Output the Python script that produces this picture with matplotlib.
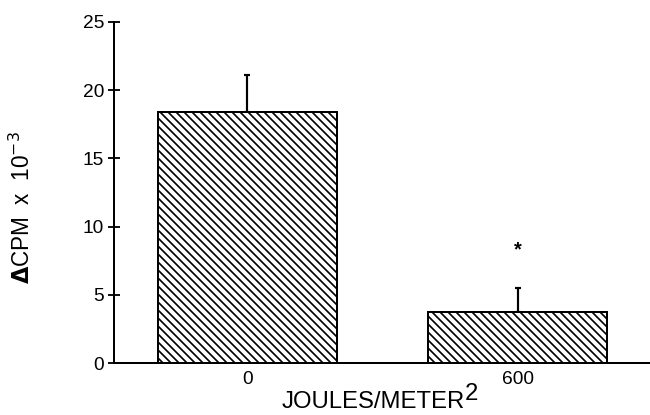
import numpy as np
import matplotlib.pyplot as plt

plt.rcParams['font.family'] = ['Liberation Sans', 'DejaVu Sans']
plt.rcParams['hatch.linewidth'] = 1.0

doses = ['0', '600']
means = [18.4, 3.75]
errors = [2.7, 1.75]
star_y = 8.3

DPI = 120
fig = plt.figure(figsize=(650 / DPI, 415 / DPI), dpi=DPI)
ax = fig.add_axes([0.1754, 0.1253, 0.8246, 0.8217])

x = np.arange(len(doses))
ax.bar(x, means, width=0.665, color='white', edgecolor='black', linewidth=1.2,
       hatch='\\' * 5, zorder=2)
ax.errorbar(x, means, yerr=[np.zeros(len(errors)), errors], fmt='none',
            ecolor='black', elinewidth=1.3, capsize=1.9, capthick=1.3, zorder=1)
ax.text(x[1], star_y, '*', ha='center', va='center', fontsize=12,
        fontweight='bold')

ax.set_xlim(-0.494, 1.49)
ax.set_ylim(0, 25)
ax.set_yticks([0, 5, 10, 15, 20, 25])
ax.set_xticks(x)
ax.set_xticklabels(doses)

for s in ['top', 'right']:
    ax.spines[s].set_visible(False)
for s in ['left', 'bottom']:
    ax.spines[s].set_linewidth(1.2)

ax.tick_params(axis='y', direction='inout', length=7, width=1.1,
               labelsize=11.5, pad=2.5)
ax.tick_params(axis='x', length=0, labelsize=11.5, pad=5)

ax.set_ylabel(r'$\mathbf{\Delta}$CPM  x  10$^{-3}$', fontsize=13.5)
ax.yaxis.set_label_coords(-0.148, 0.455)

# x label with a full-size raised "2"
fig.text(282 / 650, 1 - 402 / 415, 'JOULES/METER', fontsize=14.3,
         ha='left', va='center')
fig.text(465 / 650, 1 - 394 / 415, '2', fontsize=14.3,
         ha='left', va='center')

fig.savefig('out.png', dpi=DPI)
